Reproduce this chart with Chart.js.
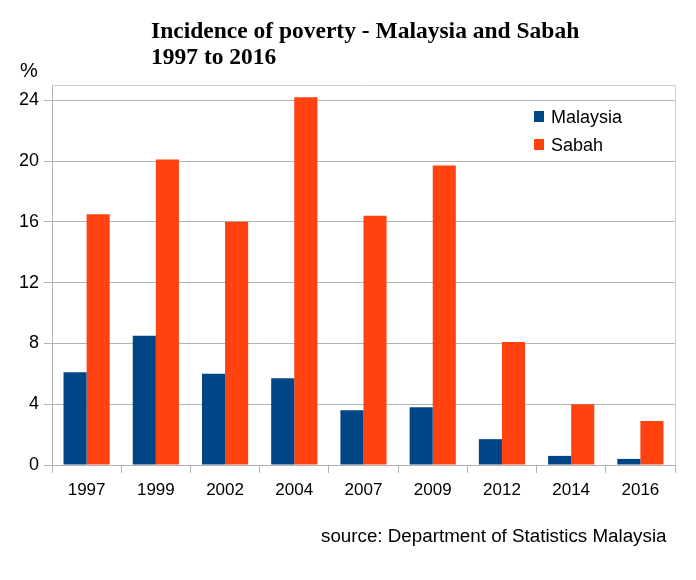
<!DOCTYPE html>
<html>
<head>
<meta charset="utf-8">
<script src="https://cdn.jsdelivr.net/npm/chart.js@4.4.1/dist/chart.umd.min.js"></script>
<style>
  html, body { margin: 0; padding: 0; background: #ffffff; }
  #wrap { width: 696px; height: 580px; position: relative; }
</style>
</head>
<body>
<div id="wrap"><canvas id="c" width="696" height="580"></canvas></div>
<script>
const categories = ['1997', '1999', '2002', '2004', '2007', '2009', '2012', '2014', '2016'];
const malaysiaValues = [6.1, 8.5, 6.0, 5.7, 3.6, 3.8, 1.7, 0.6, 0.4];
const sabahValues = [16.5, 20.1, 16.0, 24.2, 16.4, 19.7, 8.1, 4.0, 2.9];
const yTickValues = [0, 4, 8, 12, 16, 20, 24];
const seriesNames = ['Malaysia', 'Sabah'];
const titleLines = ['Incidence of poverty - Malaysia and Sabah', '1997 to 2016'];
const yUnitLabel = '%';
const sourceText = 'source: Department of Statistics Malaysia';

const BLUE = '#004586';
const ORANGE = '#ff420e';
const GRID = '#b3b3b3';
const FRAME = '#cccccc';
const SANS = '"Liberation Sans", Arial, sans-serif';
const SERIF = '"Liberation Serif", "Times New Roman", serif';

const decorPlugin = {
  id: 'decor',
  beforeDatasetsDraw(chart) {
    const { ctx, chartArea } = chart;
    ctx.save();
    ctx.strokeStyle = FRAME;
    ctx.lineWidth = 1;
    ctx.beginPath();
    ctx.moveTo(chartArea.left, chartArea.top + 0.5);
    ctx.lineTo(chartArea.right + 0.5, chartArea.top + 0.5);
    ctx.lineTo(chartArea.right + 0.5, chartArea.bottom);
    ctx.stroke();
    ctx.restore();
  },
  afterDraw(chart) {
    const { ctx } = chart;
    ctx.save();
    // Title
    ctx.fillStyle = '#000000';
    ctx.textAlign = 'left';
    ctx.textBaseline = 'alphabetic';
    ctx.font = 'bold 23.5px ' + SERIF;
    ctx.fillText(titleLines[0], 151, 38);
    ctx.fillText(titleLines[1], 151, 64);
    // unit label
    ctx.font = '20px ' + SANS;
    ctx.fillText(yUnitLabel, 20, 77);
    // source
    ctx.font = '18.8px ' + SANS;
    ctx.fillText(sourceText, 321, 542);
    // legend
    ctx.font = '18px ' + SANS;
    const ds = chart.data.datasets;
    ds.forEach((d, i) => {
      const y = 111 + i * 28;
      ctx.fillStyle = d.backgroundColor;
      ctx.fillRect(534, y, 10, 11);
      ctx.fillStyle = '#000000';
      ctx.fillText(d.label, 551, y + 12);
    });
    ctx.restore();
  }
};

new Chart(document.getElementById('c'), {
  type: 'bar',
  data: {
    labels: categories,
    datasets: [
      { label: seriesNames[0], data: malaysiaValues, backgroundColor: BLUE, borderWidth: 0 },
      { label: seriesNames[1], data: sabahValues, backgroundColor: ORANGE, borderWidth: 0 }
    ]
  },
  options: {
    responsive: false,
    animation: false,
    devicePixelRatio: 1,
    layout: { padding: { top: 85, right: 21, left: 0, bottom: 75 } },
    datasets: { bar: { categoryPercentage: 0.667, barPercentage: 1.0 } },
    plugins: {
      legend: { display: false },
      title: { display: false },
      tooltip: { enabled: false }
    },
    scales: {
      x: {
        offset: true,
        grid: { offset: true, drawOnChartArea: false, drawTicks: true, tickLength: 8, color: GRID },
        border: { display: true, color: GRID },
        ticks: { color: '#000000', font: { family: SANS, size: 17 }, padding: 7, maxRotation: 0 },
        afterFit(scale) { scale.height = 40; }
      },
      y: {
        min: 0,
        max: 25,
        afterBuildTicks(scale) { scale.ticks = yTickValues.map(v => ({ value: v })); },
        grid: { color: GRID, drawTicks: true, tickLength: 8 },
        border: { display: true, color: GRID },
        ticks: { color: '#000000', font: { family: SANS, size: 18 }, padding: 5 },
        afterFit(scale) { scale.width = 52; }
      }
    }
  },
  plugins: [decorPlugin]
});
</script>
</body>
</html>
